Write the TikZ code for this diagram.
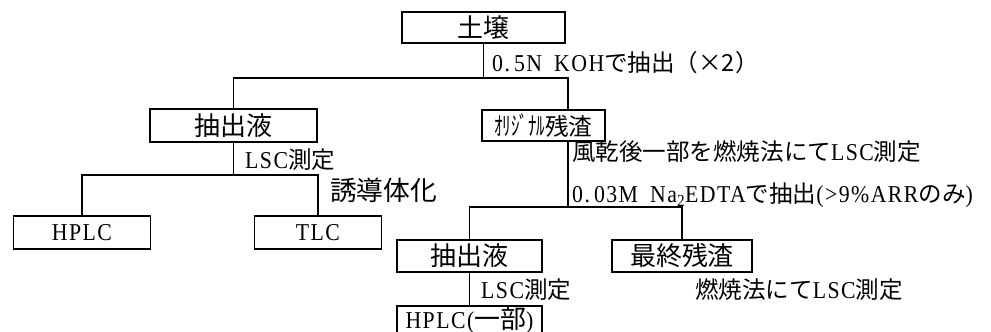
\documentclass[tikz,border=0pt]{standalone}
\usepackage{fontspec}
\setmainfont{Liberation Serif}[Scale=1.1,FakeStretch=0.9,LetterSpace=6]
\newfontfamily\jp[Scale=1.07]{Noto Sans CJK JP}
\newfontfamily\jpb[Scale=1.18]{Noto Sans CJK JP}
\newfontfamily\jpn[Scale=1.17,FakeStretch=0.66]{Noto Sans CJK JP}
\begin{document}
\begin{tikzpicture}[x=1pt,y=-1pt,
  box/.style={draw,line width=1.4pt,inner sep=0pt,font=\fontsize{22}{22}\selectfont},
  lbl/.style={anchor=west,inner sep=0pt,font=\fontsize{22}{22}\selectfont},
  conn/.style={line width=1.2pt}]
\useasboundingbox (0,0) rectangle (991,332);
% boxes
\node[box,minimum width=163pt,minimum height=31pt] (soil) at (483.5,27.5) {\jpb 土壌};
\node[box,minimum width=167pt,minimum height=33pt] (ext1) at (233.5,125.5) {\jpb 抽出液};
\node[box,minimum width=123pt,minimum height=31pt,font=\fontsize{20}{20}\selectfont] (orig) at (543.5,125.5) {{\fontsize{22}{22}\selectfont\jpn ｵﾘｼﾞﾅﾙ}{\jpb 残渣}};
\node[box,minimum width=137pt,minimum height=33pt] (hplc1) at (82,232.5) {HPLC};
\node[box,minimum width=127pt,minimum height=33pt] (tlc) at (318,232.5) {TLC};
\node[box,minimum width=145pt,minimum height=32pt] (ext2) at (469.5,256) {\jpb 抽出液};
\node[box,minimum width=140pt,minimum height=32pt] (final) at (682,256) {\jpb 最終残渣};
\node[box,minimum width=145pt,minimum height=28pt] (hplc2) at (469.5,320) {HPLC({\jpb 一部})};
% junctions
\coordinate (j1) at (483.5,78);
\coordinate (o1) at ([xshift=24.5pt]orig.north);
\coordinate (o2) at ([xshift=24.5pt]orig.south);
\coordinate (j2) at (568,207);
\coordinate (j3) at (233.5,175);
% connectors
\draw[conn] (soil.south) -- (j1);
\draw[conn] (ext1.north) |- (j1) -| (o1);
\draw[conn] (ext1.south) -- (j3);
\draw[conn] (hplc1.north) |- (j3) -| (tlc.north);
\draw[conn] (o2) -- (j2);
\draw[conn] (ext2.north) |- (j2) -| (final.north);
\draw[conn] (ext2.south) -- (hplc2.north);
% labels
\node[lbl] (l1) at (492,63) {0.\,5N\enspace KOH{\jp で抽出（×2）}};
\node[lbl] (l2) at (245,160) {LSC{\jp 測定}};
\node[lbl,font=\fontsize{25}{25}\selectfont] (l3) at (330,190) {\jp 誘導体化};
\node[lbl] (l4) at (572,152) {{\jp 風乾後一部を燃焼法にて}LSC{\jp 測定}};
\node[lbl] (l5) at (572,195) {0.\,03M\enspace Na\textsubscript{2}EDTA{\jp で抽出}(>9\%ARR{\jp のみ})};
\node[lbl] (l6) at (481,290) {LSC{\jp 測定}};
\node[lbl] (l7) at (695,290) {{\jp 燃焼法にて}LSC{\jp 測定}};
\end{tikzpicture}
\end{document}
